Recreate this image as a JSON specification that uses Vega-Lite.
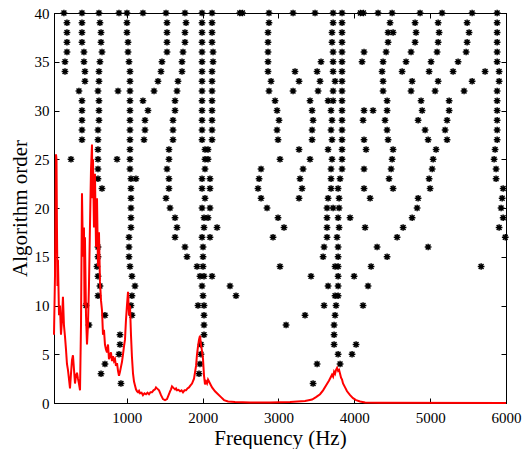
{
"$schema": "https://vega.github.io/schema/vega-lite/v6.json",
"width": 452, "height": 390,
"autosize": {"type": "none"},
"padding": {"left": 54, "top": 13, "right": 23, "bottom": 46},
"config": {
  "view": {"stroke": "black", "strokeWidth": 1},
  "font": "Liberation Serif",
  "axis": {"domainColor": "black", "tickColor": "black", "labelColor": "black", "titleColor": "black",
    "labelFont": "Liberation Serif", "titleFont": "Liberation Serif", "labelFontSize": 15, "titleFontSize": 21,
    "titleFontWeight": "normal", "grid": false, "tickSize": -5, "format": "d", "labelFlush": false}
},
"layer": [
 {
  "data": {"values": [
{"f":171,"o":40},{"f":409,"o":40},{"f":633,"o":40},{"f":897,"o":40},{"f":1002,"o":40},{"f":1213,"o":40},{"f":1517,"o":40},{"f":1767,"o":40},{"f":1992,"o":40},{"f":2124,"o":40},{"f":2490,"o":40},{"f":2525,"o":40},{"f":2875,"o":40},{"f":3192,"o":40},{"f":3482,"o":40},{"f":3720,"o":40},{"f":3838,"o":40},{"f":4080,"o":40},{"f":4120,"o":40},{"f":4313,"o":40},{"f":4498,"o":40},{"f":4867,"o":40},{"f":5157,"o":40},{"f":5553,"o":40},{"f":5883,"o":40},
{"f":211,"o":39},{"f":409,"o":39},{"f":646,"o":39},{"f":1002,"o":39},{"f":1530,"o":39},{"f":1781,"o":39},{"f":1992,"o":39},{"f":2124,"o":39},{"f":2875,"o":39},{"f":3720,"o":39},{"f":3838,"o":39},{"f":4471,"o":39},{"f":4801,"o":39},{"f":5105,"o":39},{"f":5487,"o":39},{"f":5883,"o":39},
{"f":211,"o":38},{"f":409,"o":38},{"f":660,"o":38},{"f":1002,"o":38},{"f":1530,"o":38},{"f":1767,"o":38},{"f":1992,"o":38},{"f":2124,"o":38},{"f":2862,"o":38},{"f":3706,"o":38},{"f":3838,"o":38},{"f":4445,"o":38},{"f":4511,"o":38},{"f":4814,"o":38},{"f":5118,"o":38},{"f":5513,"o":38},{"f":5883,"o":38},
{"f":211,"o":37},{"f":409,"o":37},{"f":660,"o":37},{"f":1016,"o":37},{"f":1530,"o":37},{"f":1767,"o":37},{"f":1992,"o":37},{"f":2124,"o":37},{"f":2862,"o":37},{"f":3706,"o":37},{"f":3838,"o":37},{"f":4445,"o":37},{"f":4801,"o":37},{"f":5105,"o":37},{"f":5487,"o":37},{"f":5883,"o":37},
{"f":211,"o":36},{"f":435,"o":36},{"f":673,"o":36},{"f":1016,"o":36},{"f":1530,"o":36},{"f":1741,"o":36},{"f":1992,"o":36},{"f":2137,"o":36},{"f":2862,"o":36},{"f":3720,"o":36},{"f":3838,"o":36},{"f":4128,"o":36},{"f":4419,"o":36},{"f":4748,"o":36},{"f":5091,"o":36},{"f":5474,"o":36},{"f":5883,"o":36},
{"f":185,"o":35},{"f":435,"o":35},{"f":646,"o":35},{"f":1029,"o":35},{"f":1464,"o":35},{"f":1728,"o":35},{"f":1992,"o":35},{"f":2137,"o":35},{"f":2862,"o":35},{"f":3561,"o":35},{"f":3720,"o":35},{"f":3838,"o":35},{"f":4102,"o":35},{"f":4379,"o":35},{"f":4682,"o":35},{"f":5012,"o":35},{"f":5368,"o":35},{"f":5883,"o":35},
{"f":185,"o":34},{"f":448,"o":34},{"f":633,"o":34},{"f":1042,"o":34},{"f":1451,"o":34},{"f":1728,"o":34},{"f":1992,"o":34},{"f":2124,"o":34},{"f":2862,"o":34},{"f":3218,"o":34},{"f":3509,"o":34},{"f":3720,"o":34},{"f":3838,"o":34},{"f":4366,"o":34},{"f":4630,"o":34},{"f":4986,"o":34},{"f":5302,"o":34},{"f":5724,"o":34},{"f":5909,"o":34},
{"f":448,"o":33},{"f":633,"o":33},{"f":1042,"o":33},{"f":1411,"o":33},{"f":1675,"o":33},{"f":1992,"o":33},{"f":2124,"o":33},{"f":2902,"o":33},{"f":3271,"o":33},{"f":3548,"o":33},{"f":3746,"o":33},{"f":3838,"o":33},{"f":4379,"o":33},{"f":4762,"o":33},{"f":5105,"o":33},{"f":5553,"o":33},{"f":5909,"o":33},
{"f":369,"o":32},{"f":620,"o":32},{"f":884,"o":32},{"f":1042,"o":32},{"f":1359,"o":32},{"f":1662,"o":32},{"f":1992,"o":32},{"f":2124,"o":32},{"f":2875,"o":32},{"f":3192,"o":32},{"f":3522,"o":32},{"f":3720,"o":32},{"f":3838,"o":32},{"f":4379,"o":32},{"f":4748,"o":32},{"f":5065,"o":32},{"f":5447,"o":32},{"f":5883,"o":32},
{"f":409,"o":31},{"f":633,"o":31},{"f":1042,"o":31},{"f":1213,"o":31},{"f":1636,"o":31},{"f":1992,"o":31},{"f":2124,"o":31},{"f":2955,"o":31},{"f":3416,"o":31},{"f":3654,"o":31},{"f":3720,"o":31},{"f":3838,"o":31},{"f":4432,"o":31},{"f":4880,"o":31},{"f":5250,"o":31},{"f":5883,"o":31},
{"f":409,"o":30},{"f":633,"o":30},{"f":1042,"o":30},{"f":1279,"o":30},{"f":1636,"o":30},{"f":1992,"o":30},{"f":2124,"o":30},{"f":2981,"o":30},{"f":3443,"o":30},{"f":3693,"o":30},{"f":3838,"o":30},{"f":4128,"o":30},{"f":4247,"o":30},{"f":4432,"o":30},{"f":4894,"o":30},{"f":5250,"o":30},{"f":5883,"o":30},
{"f":409,"o":29},{"f":633,"o":29},{"f":1042,"o":29},{"f":1240,"o":29},{"f":1609,"o":29},{"f":1992,"o":29},{"f":2124,"o":29},{"f":3007,"o":29},{"f":3456,"o":29},{"f":3706,"o":29},{"f":3838,"o":29},{"f":4115,"o":29},{"f":4405,"o":29},{"f":4841,"o":29},{"f":5223,"o":29},{"f":5883,"o":29},
{"f":409,"o":28},{"f":620,"o":28},{"f":1042,"o":28},{"f":1240,"o":28},{"f":1609,"o":28},{"f":1992,"o":28},{"f":2124,"o":28},{"f":2981,"o":28},{"f":3443,"o":28},{"f":3693,"o":28},{"f":3838,"o":28},{"f":4432,"o":28},{"f":4933,"o":28},{"f":5197,"o":28},{"f":5883,"o":28},
{"f":409,"o":27},{"f":620,"o":27},{"f":1042,"o":27},{"f":1227,"o":27},{"f":1609,"o":27},{"f":1992,"o":27},{"f":2124,"o":27},{"f":2994,"o":27},{"f":3443,"o":27},{"f":3706,"o":27},{"f":3838,"o":27},{"f":4128,"o":27},{"f":4445,"o":27},{"f":4973,"o":27},{"f":5223,"o":27},{"f":5883,"o":27},
{"f":620,"o":26},{"f":1042,"o":26},{"f":1556,"o":26},{"f":2031,"o":26},{"f":2071,"o":26},{"f":3271,"o":26},{"f":3654,"o":26},{"f":3838,"o":26},{"f":4155,"o":26},{"f":4511,"o":26},{"f":5078,"o":26},{"f":5856,"o":26},
{"f":264,"o":25},{"f":620,"o":25},{"f":871,"o":25},{"f":1042,"o":25},{"f":1556,"o":25},{"f":2031,"o":25},{"f":2071,"o":25},{"f":3020,"o":25},{"f":3416,"o":25},{"f":3706,"o":25},{"f":3838,"o":25},{"f":4498,"o":25},{"f":5039,"o":25},{"f":5843,"o":25},
{"f":620,"o":24},{"f":1042,"o":24},{"f":1530,"o":24},{"f":2031,"o":24},{"f":2770,"o":24},{"f":3324,"o":24},{"f":3693,"o":24},{"f":3838,"o":24},{"f":4128,"o":24},{"f":4485,"o":24},{"f":5026,"o":24},{"f":5869,"o":24},
{"f":620,"o":23},{"f":1055,"o":23},{"f":1121,"o":23},{"f":1556,"o":23},{"f":1992,"o":23},{"f":2097,"o":23},{"f":2744,"o":23},{"f":3284,"o":23},{"f":3693,"o":23},{"f":3812,"o":23},{"f":4458,"o":23},{"f":4986,"o":23},{"f":5869,"o":23},
{"f":673,"o":22},{"f":1055,"o":22},{"f":1556,"o":22},{"f":1992,"o":22},{"f":2097,"o":22},{"f":2730,"o":22},{"f":3311,"o":22},{"f":3693,"o":22},{"f":3786,"o":22},{"f":4128,"o":22},{"f":4511,"o":22},{"f":4999,"o":22},{"f":5962,"o":22},
{"f":1055,"o":21},{"f":1517,"o":21},{"f":2031,"o":21},{"f":2770,"o":21},{"f":3271,"o":21},{"f":3654,"o":21},{"f":3799,"o":21},{"f":4208,"o":21},{"f":4841,"o":21},{"f":5949,"o":21},
{"f":1055,"o":20},{"f":1570,"o":20},{"f":1992,"o":20},{"f":2097,"o":20},{"f":2849,"o":20},{"f":3640,"o":20},{"f":3720,"o":20},{"f":3799,"o":20},{"f":4828,"o":20},{"f":5935,"o":20},
{"f":1055,"o":19},{"f":1636,"o":19},{"f":2018,"o":19},{"f":2071,"o":19},{"f":2994,"o":19},{"f":3640,"o":19},{"f":3786,"o":19},{"f":3944,"o":19},{"f":4762,"o":19},{"f":5962,"o":19},
{"f":1055,"o":18},{"f":1662,"o":18},{"f":2018,"o":18},{"f":2190,"o":18},{"f":3073,"o":18},{"f":3640,"o":18},{"f":3799,"o":18},{"f":4142,"o":18},{"f":4643,"o":18},{"f":5909,"o":18},
{"f":1029,"o":17},{"f":1636,"o":17},{"f":1992,"o":17},{"f":2097,"o":17},{"f":2928,"o":17},{"f":3640,"o":17},{"f":3772,"o":17},{"f":4564,"o":17},{"f":5990,"o":17},
{"f":620,"o":16},{"f":1029,"o":16},{"f":1767,"o":16},{"f":2005,"o":16},{"f":3601,"o":16},{"f":3786,"o":16},{"f":4300,"o":16},{"f":4973,"o":16},
{"f":620,"o":15},{"f":1029,"o":15},{"f":1794,"o":15},{"f":2005,"o":15},{"f":3588,"o":15},{"f":3786,"o":15},{"f":4432,"o":15},
{"f":607,"o":14},{"f":1042,"o":14},{"f":1926,"o":14},{"f":2005,"o":14},{"f":3020,"o":14},{"f":3746,"o":14},{"f":3786,"o":14},{"f":4221,"o":14},{"f":5672,"o":14},
{"f":620,"o":13},{"f":1068,"o":13},{"f":1965,"o":13},{"f":2018,"o":13},{"f":2124,"o":13},{"f":3429,"o":13},{"f":3786,"o":13},{"f":3997,"o":13},
{"f":646,"o":12},{"f":1108,"o":12},{"f":1992,"o":12},{"f":2361,"o":12},{"f":3654,"o":12},{"f":3786,"o":12},{"f":4181,"o":12},
{"f":620,"o":11},{"f":1068,"o":11},{"f":2005,"o":11},{"f":2440,"o":11},{"f":3746,"o":11},{"f":3786,"o":11},
{"f":462,"o":10},{"f":1055,"o":10},{"f":1939,"o":10},{"f":2018,"o":10},{"f":3601,"o":10},{"f":3759,"o":10},{"f":4115,"o":10},
{"f":712,"o":9},{"f":1068,"o":9},{"f":2018,"o":9},{"f":3350,"o":9},{"f":3746,"o":9},
{"f":501,"o":8},{"f":2018,"o":8},{"f":3100,"o":8},{"f":3733,"o":8},
{"f":910,"o":7},{"f":2018,"o":7},{"f":3733,"o":7},
{"f":910,"o":6},{"f":1978,"o":6},{"f":3733,"o":6},{"f":4023,"o":6},
{"f":897,"o":5},{"f":1978,"o":5},{"f":3786,"o":5},{"f":3970,"o":5},
{"f":712,"o":4},{"f":1965,"o":4},{"f":3509,"o":4},{"f":3812,"o":4},
{"f":660,"o":3},{"f":1952,"o":3},
{"f":923,"o":2},{"f":3456,"o":2}
  ]},
  "mark": {"type": "point", "shape": "M-1,0L1,0M0,-1L0,1M-0.72,-0.72L0.72,0.72M-0.72,0.72L0.72,-0.72", "filled": false, "stroke": "black", "strokeWidth": 1.5, "size": 45, "opacity": 1},
  "encoding": {
    "x": {"field": "f", "type": "quantitative", "scale": {"domain": [40, 6000], "nice": false, "zero": false},
      "axis": {"orient": "bottom", "values": [1000,2000,3000,4000,5000,6000], "title": "Frequency (Hz)", "labelPadding": 12, "titlePadding": 2}},
    "y": {"field": "o", "type": "quantitative", "scale": {"domain": [0, 40], "nice": false},
      "axis": {"orient": "left", "values": [0,5,10,15,20,25,30,35,40], "title": "Algorithm order", "labelPadding": 10, "titlePadding": 4}}
  }
 },
 {
  "data": {"values": [
{"f":40,"a":7},{"f":53,"a":13},{"f":66,"a":25.5},{"f":73,"a":25},{"f":79,"a":18},{"f":86,"a":12},{"f":92,"a":14.7},{"f":106,"a":9},{"f":119,"a":10},{"f":132,"a":7},{"f":145,"a":8.5},{"f":158,"a":10.9},{"f":171,"a":8},{"f":185,"a":6.8},{"f":198,"a":5.5},{"f":211,"a":4},{"f":224,"a":3.4},{"f":237,"a":2.5},{"f":251,"a":1.5},{"f":264,"a":3},{"f":277,"a":4.4},{"f":290,"a":4.9},{"f":303,"a":3.5},{"f":317,"a":2},{"f":330,"a":2.8},{"f":343,"a":3.1},{"f":356,"a":2.5},{"f":369,"a":2},{"f":383,"a":1.3},{"f":396,"a":8},{"f":409,"a":21.5},{"f":422,"a":15},{"f":435,"a":18},{"f":442,"a":10},{"f":448,"a":17},{"f":462,"a":9},{"f":475,"a":6},{"f":488,"a":8},{"f":501,"a":12},{"f":514,"a":18},{"f":528,"a":24},{"f":541,"a":26.5},{"f":547,"a":21},{"f":554,"a":25},{"f":567,"a":18},{"f":580,"a":23.5},{"f":594,"a":16},{"f":607,"a":21},{"f":620,"a":14},{"f":633,"a":17.5},{"f":646,"a":12.5},{"f":660,"a":10.5},{"f":673,"a":9.5},{"f":686,"a":7},{"f":699,"a":7.5},{"f":712,"a":6},{"f":725,"a":5.5},{"f":739,"a":5.2},{"f":752,"a":6},{"f":765,"a":4.5},{"f":778,"a":4.8},{"f":791,"a":5.2},{"f":805,"a":4.3},{"f":818,"a":4.8},{"f":831,"a":4.3},{"f":844,"a":4.5},{"f":857,"a":3.8},{"f":871,"a":4.1},{"f":884,"a":3.3},{"f":897,"a":2.8},{"f":910,"a":3.2},{"f":923,"a":3.7},{"f":936,"a":4.2},{"f":950,"a":5},{"f":963,"a":5.8},{"f":976,"a":6.5},{"f":989,"a":8.5},{"f":1002,"a":10},{"f":1016,"a":11.4},{"f":1029,"a":9},{"f":1042,"a":10},{"f":1055,"a":7},{"f":1068,"a":4.7},{"f":1082,"a":3},{"f":1095,"a":2.2},{"f":1108,"a":1.8},{"f":1121,"a":1.4},{"f":1135,"a":1.2},{"f":1148,"a":1.1},{"f":1161,"a":1.25},{"f":1174,"a":1.0},{"f":1195,"a":1.05},{"f":1213,"a":0.8},{"f":1233,"a":1.0},{"f":1253,"a":0.9},{"f":1273,"a":1.05},{"f":1293,"a":0.9},{"f":1312,"a":1.1},{"f":1332,"a":1.1},{"f":1352,"a":1.3},{"f":1372,"a":1.4},{"f":1385,"a":1.6},{"f":1398,"a":1.5},{"f":1412,"a":1.4},{"f":1425,"a":1.3},{"f":1451,"a":0.8},{"f":1477,"a":0.4},{"f":1504,"a":0.3},{"f":1530,"a":0.4},{"f":1556,"a":0.9},{"f":1570,"a":1.2},{"f":1583,"a":1.4},{"f":1596,"a":1.7},{"f":1609,"a":1.6},{"f":1622,"a":1.5},{"f":1636,"a":1.4},{"f":1649,"a":1.5},{"f":1662,"a":1.3},{"f":1682,"a":1.35},{"f":1702,"a":1.2},{"f":1722,"a":1.3},{"f":1741,"a":1.1},{"f":1761,"a":1.3},{"f":1781,"a":1.3},{"f":1800,"a":1.5},{"f":1820,"a":1.6},{"f":1840,"a":1.8},{"f":1860,"a":2},{"f":1886,"a":2.5},{"f":1913,"a":3.8},{"f":1926,"a":5},{"f":1939,"a":5.8},{"f":1952,"a":6.5},{"f":1965,"a":6.9},{"f":1978,"a":6},{"f":1992,"a":5.3},{"f":2005,"a":4.5},{"f":2018,"a":2.8},{"f":2031,"a":1.9},{"f":2045,"a":2.2},{"f":2058,"a":2},{"f":2071,"a":2.4},{"f":2084,"a":2.2},{"f":2097,"a":2},{"f":2124,"a":1.6},{"f":2163,"a":1.2},{"f":2203,"a":0.9},{"f":2242,"a":0.6},{"f":2282,"a":0.3},{"f":2335,"a":0.15},{"f":2427,"a":0.1},{"f":2625,"a":0.05},{"f":2888,"a":0.05},{"f":3152,"a":0.1},{"f":3350,"a":0.2},{"f":3443,"a":0.35},{"f":3495,"a":0.6},{"f":3548,"a":0.9},{"f":3588,"a":1.3},{"f":3627,"a":1.8},{"f":3667,"a":2.3},{"f":3706,"a":2.9},{"f":3720,"a":2.7},{"f":3733,"a":3.2},{"f":3746,"a":3.0},{"f":3759,"a":3.4},{"f":3772,"a":3.6},{"f":3786,"a":3.3},{"f":3799,"a":3.4},{"f":3812,"a":3},{"f":3825,"a":2.6},{"f":3838,"a":2.4},{"f":3851,"a":2},{"f":3878,"a":1.6},{"f":3904,"a":1.2},{"f":3944,"a":0.8},{"f":3983,"a":0.5},{"f":4023,"a":0.3},{"f":4076,"a":0.15},{"f":4142,"a":0.05},{"f":4340,"a":0.02},{"f":6000,"a":0}
  ]},
  "mark": {"type": "line", "color": "#ff0000", "strokeWidth": 2},
  "encoding": {
    "x": {"field": "f", "type": "quantitative", "axis": {"orient": "top", "values": [1000,2000,3000,4000,5000,6000], "labels": false, "title": null}},
    "y": {"field": "a", "type": "quantitative", "axis": {"orient": "right", "values": [0,5,10,15,20,25,30,35,40], "labels": false, "title": null}}
  }
 }
],
"resolve": {"axis": {"x": "independent", "y": "independent"}}
}
